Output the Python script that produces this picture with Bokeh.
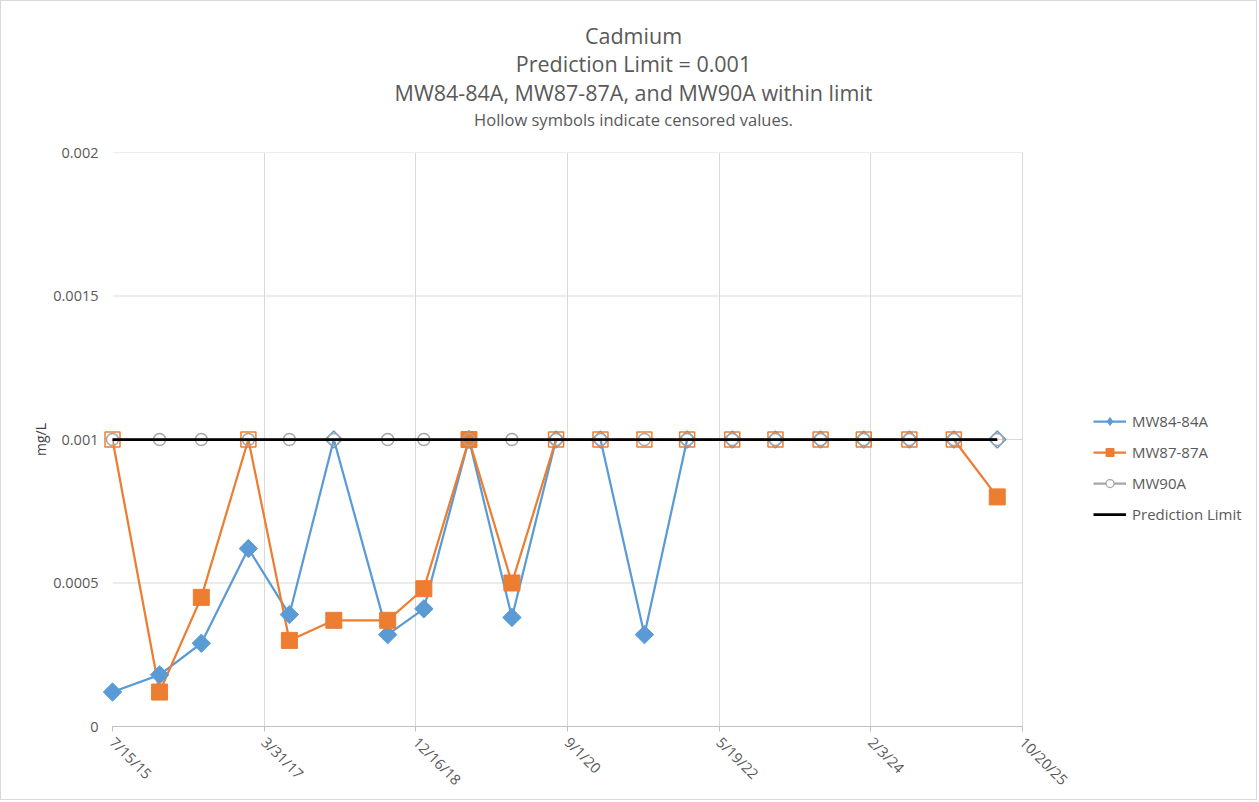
import numpy as np
import pandas as pd
from bokeh.plotting import figure
from bokeh.models import (ColumnDataSource, Range1d, FixedTicker, Legend, LegendItem,
                          CDSView, BooleanFilter)
from bokeh.embed import file_html
from bokeh.resources import INLINE
from bokeh.core.properties import value

# ---------------- data ----------------
dates = ["2015-07-15", "2016-01-25", "2016-07-15", "2017-01-25", "2017-07-13",
         "2018-01-12", "2018-08-22", "2019-01-18", "2019-07-23", "2020-01-16",
         "2020-07-16", "2021-01-15", "2021-07-15", "2022-01-07", "2022-07-12",
         "2023-01-06", "2023-07-11", "2024-01-05", "2024-07-11", "2025-01-10",
         "2025-07-08"]
mw84 = [0.00012, 0.00018, 0.00029, 0.00062, 0.00039, 0.001, 0.00032, 0.00041,
        0.001, 0.00038, 0.001, 0.001, 0.00032, 0.001, 0.001, 0.001, 0.001,
        0.001, 0.001, 0.001, 0.001]
mw84_censored = [0, 0, 0, 0, 0, 1, 0, 0, 0, 0, 1, 1, 0, 1, 1, 1, 1, 1, 1, 1, 1]
mw87 = [0.001, 0.00012, 0.00045, 0.001, 0.0003, 0.00037, 0.00037, 0.00048,
        0.001, 0.0005, 0.001, 0.001, 0.001, 0.001, 0.001, 0.001, 0.001,
        0.001, 0.001, 0.001, 0.0008]
mw87_censored = [1, 0, 0, 1, 0, 0, 0, 0, 0, 0, 1, 1, 1, 1, 1, 1, 1, 1, 1, 1, 0]
mw90 = [0.001] * 21
mw90_censored = [1] * 21
prediction_limit = 0.001

x_tick_dates = ["2015-07-15", "2017-03-31", "2018-12-16", "2020-09-01",
                "2022-05-19", "2024-02-03", "2025-10-20"]
x_tick_labels = ["7/15/15", "3/31/17", "12/16/18", "9/1/20", "5/19/22", "2/3/24", "10/20/25"]
y_ticks = [0, 0.0005, 0.001, 0.0015, 0.002]
y_tick_labels = ["0", "0.0005", "0.001", "0.0015", "0.002"]

title_lines = ["Cadmium", "Prediction Limit = 0.001",
               "MW84-84A, MW87-87A, and MW90A within limit"]
subtitle = "Hollow symbols indicate censored values."
series_names = ["MW84-84A", "MW87-87A", "MW90A", "Prediction Limit"]

# ---------------- styling / layout ----------------
BLUE = "#5B9BD5"
ORANGE = "#ED7D31"
GRAY = "#A5A5A5"
TXT = "#595959"
GRID = "#D9D9D9"
FONT = "Open Sans"

W, H = 1257, 800
LEFT, TOP, BOTTOM = 111, 151, 75
AXIS_W = 910          # width of the dated part of the plot area
FRAME_W = W - LEFT    # plot area also hosts the legend on its right

x = pd.to_datetime(dates)
x_ticks_ms = [pd.Timestamp(d).value / 1e6 for d in x_tick_dates]
x_start = pd.Timestamp(x_tick_dates[0])
x_end = pd.Timestamp(x_tick_dates[-1])
x_range_end = x_start + (x_end - x_start) * (FRAME_W / AXIS_W)

p = figure(width=W, height=H, x_axis_type="datetime",
           output_backend="svg", toolbar_location=None,
           min_border_left=LEFT, min_border_right=0,
           min_border_top=TOP, min_border_bottom=BOTTOM,
           x_range=Range1d(start=x_start, end=x_range_end),
           y_range=Range1d(start=y_ticks[0], end=y_ticks[-1]))
p.outline_line_color = None
p.styles = {"border": "1px solid #D9D9D9"}

# axes
p.xaxis.ticker = FixedTicker(ticks=x_ticks_ms)
p.xaxis.bounds = (x_ticks_ms[0], x_ticks_ms[-1])
p.xaxis.major_label_overrides = {t: l for t, l in zip(x_ticks_ms, x_tick_labels)}
p.xaxis.major_label_orientation = -np.pi / 4
p.xaxis.axis_line_color = "#BFBFBF"
p.xaxis.major_tick_line_color = "#BFBFBF"
p.xaxis.major_tick_out = 5
p.xaxis.major_tick_in = 0
p.xaxis.minor_tick_line_color = None
p.xaxis.major_label_standoff = 8
p.xaxis.major_label_text_color = TXT
p.xaxis.major_label_text_font = FONT
p.xaxis.major_label_text_font_size = "14.5px"

p.yaxis.ticker = FixedTicker(ticks=y_ticks)
p.yaxis.major_label_overrides = {t: l for t, l in zip(y_ticks, y_tick_labels)}
p.yaxis.axis_line_color = None
p.yaxis.major_tick_line_color = None
p.yaxis.minor_tick_line_color = None
p.yaxis.major_label_standoff = 8
p.yaxis.major_label_text_color = TXT
p.yaxis.major_label_text_font = FONT
p.yaxis.major_label_text_font_size = "14.5px"
p.yaxis.axis_label = "mg/L"
p.yaxis.axis_label_text_font = FONT
p.yaxis.axis_label_text_font_style = "normal"
p.yaxis.axis_label_text_font_size = "14px"
p.yaxis.axis_label_text_color = "#404040"
p.yaxis.axis_label_standoff = 0

# grid: vertical lines at date ticks, horizontal lines only across the dated span
p.xgrid.ticker = FixedTicker(ticks=x_ticks_ms)
p.xgrid.grid_line_color = GRID
p.ygrid.visible = False
p.segment(x0=[x_start] * len(y_ticks), x1=[x_end] * len(y_ticks), y0=y_ticks, y1=y_ticks,
          line_color=GRID, line_width=1, level="underlay")

# ---------------- series ----------------
def add_series(vals, cens, color, marker, fsize, hsize, angle):
    src = ColumnDataSource(dict(x=x, y=vals))
    ln = p.line("x", "y", source=src, line_color=color, line_width=2.25)
    filled = [c == 0 for c in cens]
    hollow = [c == 1 for c in cens]
    f = p.scatter("x", "y", source=src, view=CDSView(filter=BooleanFilter(filled)),
                  marker=marker, size=fsize, angle=angle, level="overlay",
                  fill_color=color, line_color=color, line_width=1)
    h = p.scatter("x", "y", source=src, view=CDSView(filter=BooleanFilter(hollow)),
                  marker=marker, size=hsize, angle=angle, level="overlay",
                  fill_color=None, line_color=color, line_width=1.5)
    return ln, f, h

l84, f84, h84 = add_series(mw84, mw84_censored, BLUE, "square", 13, 12, np.pi / 4)
l87, f87, h87 = add_series(mw87, mw87_censored, ORANGE, "square", 16, 15, 0)
l90, f90, h90 = add_series(mw90, mw90_censored, GRAY, "circle", 12, 12, 0)

pl_src = ColumnDataSource(dict(x=[x[0], x[-1]], y=[prediction_limit, prediction_limit]))
lpl = p.line("x", "y", source=pl_src, line_color="black", line_width=2.75, level="overlay")

# legend-only glyphs (small markers)
leg_src = ColumnDataSource(dict(x=[x[0]], y=[np.nan]))
lg84 = p.scatter("x", "y", source=leg_src, marker="diamond", size=11,
                 fill_color=BLUE, line_color=BLUE)
lg87 = p.scatter("x", "y", source=leg_src, marker="square", size=9,
                 fill_color=ORANGE, line_color=ORANGE)
lg90 = p.scatter("x", "y", source=leg_src, marker="circle", size=9,
                 fill_color="white", line_color=GRAY, line_width=1.25)

legend = Legend(items=[
    LegendItem(label=series_names[0], renderers=[l84, lg84]),
    LegendItem(label=series_names[1], renderers=[l87, lg87]),
    LegendItem(label=series_names[2], renderers=[l90, lg90]),
    LegendItem(label=series_names[3], renderers=[lpl]),
], location=(981, 202))
legend.background_fill_alpha = 0
legend.border_line_color = None
legend.padding = 0
legend.margin = 0
legend.spacing = 11
legend.glyph_height = 20
legend.glyph_width = 33
legend.label_standoff = 6
legend.label_height = 20
legend.label_text_font = FONT
legend.label_text_font_size = "15px"
legend.label_text_color = TXT
p.add_layout(legend, "center")

# ---------------- titles: text anchored at the plot's top-left corner, offset in px ----------------
title_src = ColumnDataSource(dict(x=[x_start] * 3, y=[y_ticks[-1]] * 3, text=title_lines,
                                  dy=[-117, -89, -60]))
p.text("x", "y", text="text", source=title_src, x_offset=521, y_offset="dy",
       text_align="center", text_baseline="middle", level="overlay",
       text_font=value(FONT), text_font_size="21.5px", text_color=TXT)
sub_src = ColumnDataSource(dict(x=[x_start], y=[y_ticks[-1]], text=[subtitle]))
p.text("x", "y", text="text", source=sub_src, x_offset=521, y_offset=-33,
       text_align="center", text_baseline="middle", level="overlay",
       text_font=value(FONT), text_font_size="16.5px", text_color=TXT)

open("out.html", "w").write(file_html(p, INLINE))
